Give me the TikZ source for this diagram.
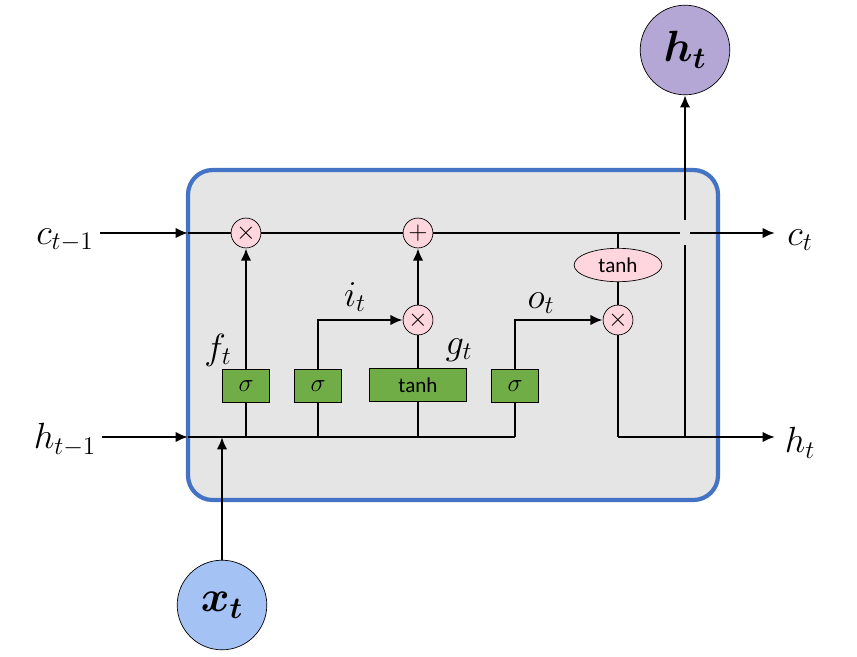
\documentclass[tikz,border=0pt]{standalone}
\usepackage{amsmath}
\usepackage{fontspec}
\newfontfamily\calib{Carlito}
\usetikzlibrary{arrows.meta,shapes.geometric}
\definecolor{cellblue}{RGB}{68,114,196}
\definecolor{gatepink}{RGB}{255,214,222}
\definecolor{gategreen}{RGB}{112,173,71}
\definecolor{xblue}{RGB}{164,194,244}
\definecolor{hpurple}{RGB}{180,167,214}
\tikzset{
  wire/.style={line width=1.6pt, -{Latex[length=7pt,width=6pt]}},
  line/.style={line width=1.6pt},
  op/.style={circle, draw, fill=gatepink, minimum size=17pt, inner sep=0pt, font=\Large},
  gate/.style={draw, fill=gategreen, minimum height=19pt, minimum width=27pt, inner sep=0pt, font=\Large},
  io/.style={circle, draw, minimum size=51pt, inner sep=0pt, font=\fontsize{24}{28}\selectfont},
  lab/.style={font=\fontsize{22}{26}\selectfont}
}
\begin{document}
\begin{tikzpicture}[x=0.02cm, y=-0.02cm]
    \useasboundingbox (0,0) rectangle (857,656);
    % Cell
    \draw[cellblue, line width=2.4pt, fill=gray!20, rounded corners=14pt] (188,170) rectangle (718,500);
    % Inputs and outputs
    \node[lab] (cprev) at (65,240) {$c_{t-1}$};
    \node[lab] (hprev) at (65,440) {$h_{t-1}$};
    \node[lab] (cnext) at (800,240) {$c_t$};
    \node[lab] (hnext) at (800,443) {$h_t$};
    \node[io, fill=xblue] (x) at (222,605) {$\boldsymbol{x_t}$};
    \node[io, fill=hpurple] (h) at (685,50) {$\boldsymbol{h_t}$};
    % Operations
    \node[op] (mulf) at (246,233) {$\times$};
    \node[op] (add) at (418,233) {$+$};
    \node[op] (muli) at (418,320) {$\times$};
    \node[op] (mulo) at (618,320) {$\times$};
    \node[ellipse, draw, fill=gatepink, minimum width=50pt, minimum height=19pt, inner sep=0pt, font=\calib\large] (tanhc) at (618,265) {tanh};
    % Gates
    \node[gate] (sf) at (246,386) {$\sigma$};
    \node[gate] (si) at (318,386) {$\sigma$};
    \node[gate, minimum width=55pt, font=\calib\large] (tg) at (418,385) {tanh};
    \node[gate] (so) at (515,386) {$\sigma$};
    % Coordinates
    \coordinate (cin) at (188,233);
    \coordinate (hin) at (188,437);
    \coordinate (cout) at (775,233);
    \coordinate (hout) at (775,437);
    \coordinate (bend) at (618,437);
    \coordinate (hup) at (685,437);
    % Cell state line
    \draw[wire] (cprev.east |- cin) -- (cin);
    \draw[line] (cin) -- (mulf) -- (add) -- (680,233);
    \draw[wire] (690,233) -- (cout);
    \draw[wire] (hprev.east |- hin) -- (hin);
    \draw[line] (hin) -- (515,437);
    \draw[wire] (x) -- (x |- hin);
    % Gates to operations
    \foreach \g in {sf,si,tg,so} \draw[line] (\g) -- (\g |- hin);
    \draw[wire] (sf) -- (mulf);
    \draw[wire] (si.north) |- (muli);
    \draw[line] (tg) -- (muli);
    \draw[wire] (muli) -- (add);
    \draw[wire] (so.north) |- (mulo);
    \draw[line] (mulo |- cin) -- (tanhc) -- (mulo);
    \draw[line] (mulo) -- (bend);
    \draw[wire] (bend) -- (hout);
    \draw[line] (hup) -- (685,245);
    \draw[wire] (685,220) -- (h);
    % Gate labels
    \node[lab] at (218,350) {$f_t$};
    \node[lab] at (355,297) {$i_t$};
    \node[lab] at (459,350) {$g_t$};
    \node[lab] at (541,303) {$o_t$};
\end{tikzpicture}
\end{document}
